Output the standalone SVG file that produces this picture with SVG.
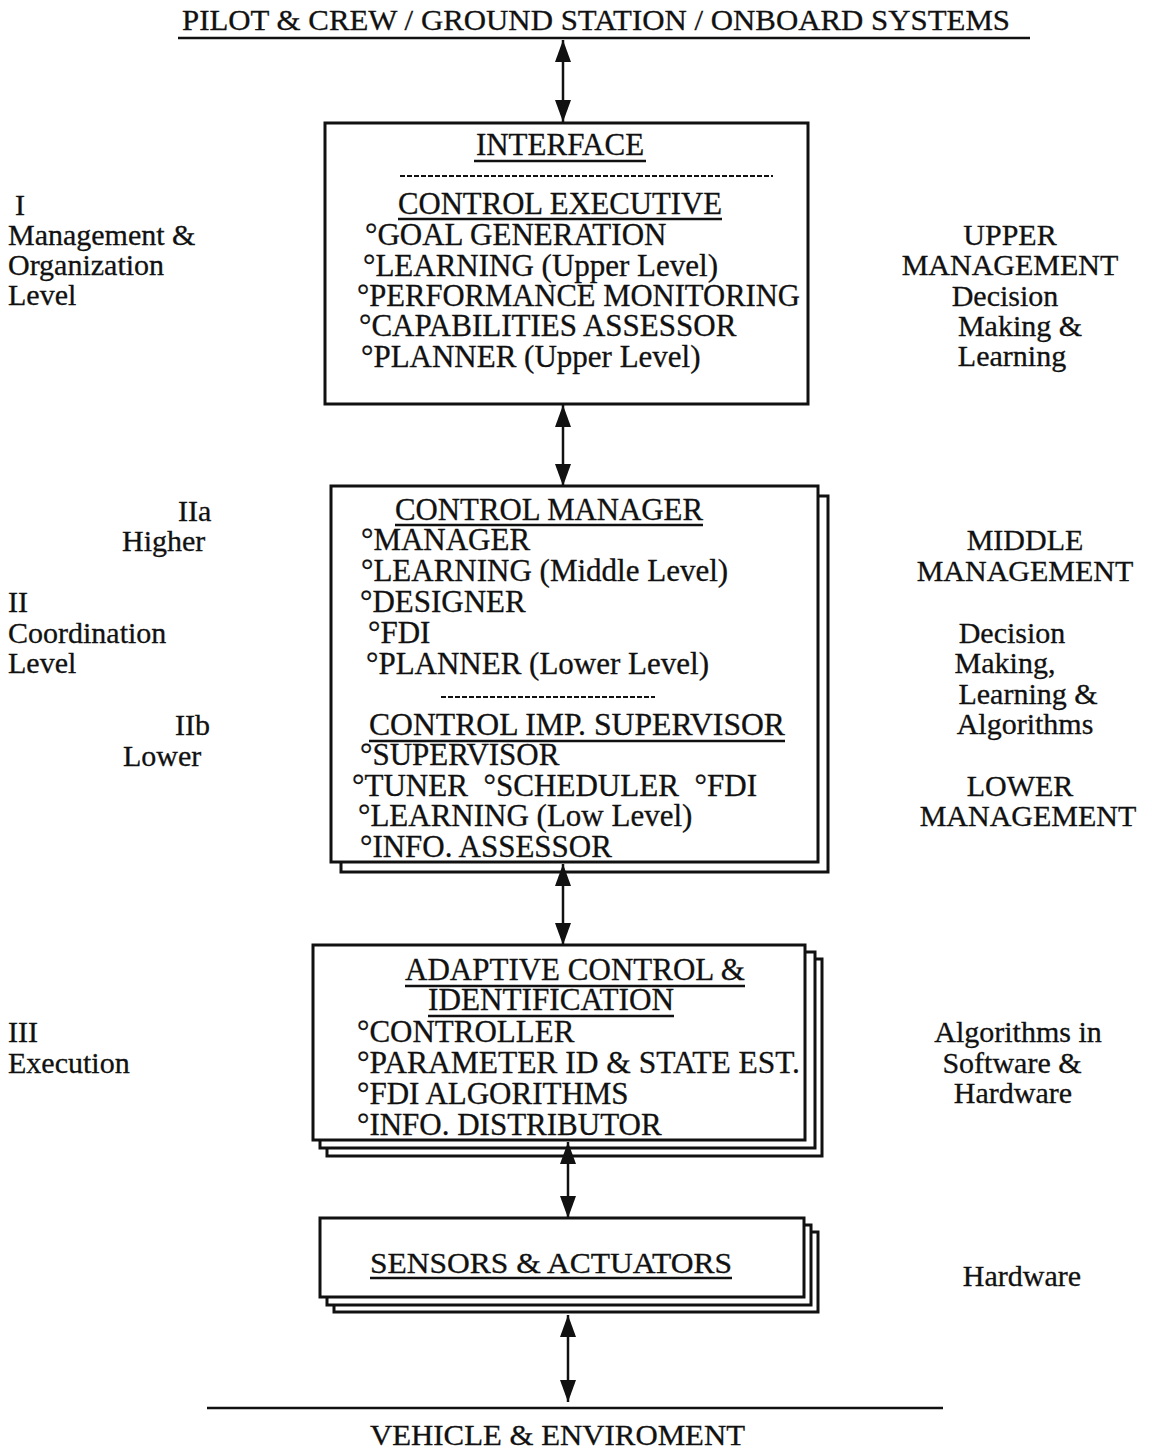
<svg xmlns="http://www.w3.org/2000/svg" width="1152" height="1449" viewBox="0 0 1152 1449">
<style>
text{font-family:"Liberation Serif","Times New Roman",serif;font-size:30px;fill:#111;stroke:#111;stroke-width:0.3}
.c{text-anchor:middle}
.it{font-size:31px}
.box{fill:#fff;stroke:#111;stroke-width:3}
.ul{stroke:#111;stroke-width:2.5}
.rule{stroke:#111;stroke-width:2.5}
.dash{stroke:#111;stroke-width:2;stroke-dasharray:5 2}
.conn{stroke:#111;stroke-width:2.5;fill:none;marker-start:url(#ah);marker-end:url(#ah)}
</style>
<defs>
<marker id="ah" viewBox="0 0 22 16" refX="22" refY="8" markerWidth="22" markerHeight="16" markerUnits="userSpaceOnUse" orient="auto-start-reverse">
<path d="M0,0 L22,8 L0,16 Z" fill="#111"/>
</marker>
</defs>
<rect width="1152" height="1449" fill="#fff"/>

<g id="top-boundary">
<text x="182" y="30" textLength="828" lengthAdjust="spacingAndGlyphs">PILOT &amp; CREW / GROUND STATION / ONBOARD SYSTEMS</text>
<line class="rule" x1="178" y1="38" x2="1030" y2="38"/>
</g>

<g id="node-control-executive">
<rect class="box" x="325" y="123" width="483" height="281"/>
<text class="c it" x="560" y="155">INTERFACE</text>
<line class="ul" x1="474" y1="161" x2="646" y2="161"/>
<line class="dash" x1="400" y1="176" x2="773" y2="176"/>
<text class="it" x="398" y="214" textLength="324" lengthAdjust="spacingAndGlyphs">CONTROL EXECUTIVE</text>
<line class="ul" x1="398" y1="219" x2="722" y2="219"/>
<text class="it" x="365" y="245">°GOAL GENERATION</text>
<text class="it" x="363" y="276">°LEARNING (Upper Level)</text>
<text class="it" x="357" y="306" textLength="443" lengthAdjust="spacingAndGlyphs">°PERFORMANCE MONITORING</text>
<text class="it" x="359" y="336">°CAPABILITIES ASSESSOR</text>
<text class="it" x="361" y="367">°PLANNER (Upper Level)</text>
</g>

<g id="node-control-manager">
<rect class="box" x="341" y="496" width="487" height="376"/>
<rect class="box" x="331" y="486" width="487" height="376"/>
<text class="it" x="395" y="520" textLength="308" lengthAdjust="spacingAndGlyphs">CONTROL MANAGER</text>
<line class="ul" x1="395" y1="525" x2="703" y2="525"/>
<text class="it" x="361" y="550">°MANAGER</text>
<text class="it" x="361" y="581">°LEARNING (Middle Level)</text>
<text class="it" x="360" y="612">°DESIGNER</text>
<text class="it" x="368" y="643">°FDI</text>
<text class="it" x="366" y="674">°PLANNER (Lower Level)</text>
<line class="dash" x1="441" y1="697" x2="655" y2="697"/>
<text class="it" x="369" y="735" textLength="416" lengthAdjust="spacingAndGlyphs">CONTROL IMP. SUPERVISOR</text>
<line class="ul" x1="369" y1="741" x2="785" y2="741"/>
<text class="it" x="360" y="765">°SUPERVISOR</text>
<text class="it" x="352" y="796" xml:space="preserve" textLength="405" lengthAdjust="spacingAndGlyphs">°TUNER  °SCHEDULER  °FDI</text>
<text class="it" x="358" y="826">°LEARNING (Low Level)</text>
<text class="it" x="360" y="857">°INFO. ASSESSOR</text>
</g>

<g id="node-adaptive-control">
<rect class="box" x="327" y="959" width="495" height="197"/>
<rect class="box" x="320" y="952" width="495" height="196"/>
<rect class="box" x="313" y="945" width="492" height="195"/>
<text class="it" x="405" y="980" textLength="340" lengthAdjust="spacingAndGlyphs">ADAPTIVE CONTROL &amp;</text>
<line class="ul" x1="405" y1="986" x2="745" y2="986"/>
<text class="it" x="428" y="1010" textLength="246" lengthAdjust="spacingAndGlyphs">IDENTIFICATION</text>
<line class="ul" x1="428" y1="1016" x2="674" y2="1016"/>
<text class="it" x="357" y="1042">°CONTROLLER</text>
<text class="it" x="357" y="1073" textLength="443" lengthAdjust="spacingAndGlyphs">°PARAMETER ID &amp; STATE EST.</text>
<text class="it" x="357" y="1104">°FDI ALGORITHMS</text>
<text class="it" x="357" y="1135">°INFO. DISTRIBUTOR</text>
</g>

<g id="node-sensors-actuators">
<rect class="box" x="334" y="1232" width="484" height="80"/>
<rect class="box" x="327" y="1225" width="484" height="80"/>
<rect class="box" x="320" y="1218" width="484" height="79"/>
<text x="370" y="1273" textLength="362" lengthAdjust="spacingAndGlyphs">SENSORS &amp; ACTUATORS</text>
<line class="ul" x1="370" y1="1278" x2="732" y2="1278"/>
</g>

<g id="connectors">
<line class="conn" x1="563" y1="40" x2="563" y2="122"/>
<line class="conn" x1="563" y1="405" x2="563" y2="486"/>
<line class="conn" x1="563" y1="864" x2="563" y2="945"/>
<line class="conn" x1="568" y1="1142" x2="568" y2="1218"/>
<line class="conn" x1="568" y1="1315" x2="568" y2="1402"/>
</g>

<g id="bottom-boundary">
<line class="rule" x1="207" y1="1408" x2="943" y2="1408"/>
<text x="370" y="1445" textLength="375" lengthAdjust="spacingAndGlyphs">VEHICLE &amp; ENVIROMENT</text>
</g>

<g id="left-labels">
<text x="15" y="215">I</text>
<text x="8" y="245">Management &amp;</text>
<text x="8" y="275">Organization</text>
<text x="8" y="305">Level</text>
<text x="178" y="521">IIa</text>
<text x="122" y="551">Higher</text>
<text x="8" y="612">II</text>
<text x="8" y="643">Coordination</text>
<text x="8" y="673">Level</text>
<text x="175" y="735">IIb</text>
<text x="123" y="766">Lower</text>
<text x="8" y="1042">III</text>
<text x="8" y="1073">Execution</text>
</g>

<g id="right-labels">
<text class="c" x="1010" y="245">UPPER</text>
<text class="c" x="1010" y="275">MANAGEMENT</text>
<text class="c" x="1005" y="306">Decision</text>
<text class="c" x="1020" y="336">Making &amp;</text>
<text class="c" x="1012" y="366">Learning</text>
<text class="c" x="1025" y="550">MIDDLE</text>
<text class="c" x="1025" y="581">MANAGEMENT</text>
<text class="c" x="1012" y="643">Decision</text>
<text class="c" x="1005" y="673">Making,</text>
<text class="c" x="1028" y="704">Learning &amp;</text>
<text class="c" x="1025" y="734">Algorithms</text>
<text class="c" x="1020" y="796">LOWER</text>
<text class="c" x="1028" y="826">MANAGEMENT</text>
<text class="c" x="1018" y="1042">Algorithms in</text>
<text class="c" x="1012" y="1073">Software &amp;</text>
<text class="c" x="1013" y="1103">Hardware</text>
<text class="c" x="1022" y="1286">Hardware</text>
</g>
</svg>
